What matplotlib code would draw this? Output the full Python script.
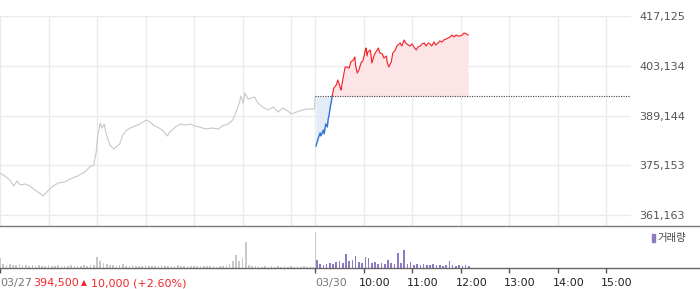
#!/usr/bin/env python3
"""
Intraday price chart (2 sessions) with volume panel below.
x axis = minutes from 03/27 09:00 (03/30 09:00 -> 390)
"""

import matplotlib
matplotlib.use('Agg')
import matplotlib.pyplot as plt
import numpy as np
from matplotlib.patches import Rectangle
from matplotlib.transforms import blended_transform_factory

W, H, DPI = 700, 289, 100

# --- data -------------------------------------------------------------
PREV_CLOSE = 394500
Y_TICKS = [361163, 375153, 389144, 403134, 417125]
Y_BOTTOM = 358070

day1_minutes = [0, 6, 12, 17, 21, 25, 31, 37, 43, 49, 53, 58, 64, 72, 80, 87, 96,
                105, 111, 116, 119, 121, 124, 126, 129, 131, 134, 136, 141, 145,
                148, 152, 157, 161, 167, 173, 181, 186, 191, 195, 202, 207, 210,
                217, 223, 229, 235, 241, 247, 254, 262, 270, 275, 282, 288, 292,
                296, 298, 301, 303, 307, 311, 315, 319, 325, 332, 338, 344, 350,
                356, 361, 367, 374, 381, 389, 390]
day1_prices = [372977, 372133, 371009, 369322, 370727, 369603, 369884, 369322,
               368197, 367353, 366509, 367634, 369040, 370165, 370446, 371290,
               372133, 373258, 374664, 375226, 378882, 383661, 387036, 385630,
               386755, 384224, 382256, 380850, 379725, 380569, 381131, 383661,
               385067, 385630, 386192, 386755, 387880, 387317, 386192, 385911,
               384786, 383380, 384505, 385911, 386755, 386473, 386755, 386192,
               385911, 385349, 385630, 385349, 386192, 386755, 387880, 390130,
               392660, 394629, 392660, 395472, 393785, 394066, 394348, 392660,
               391536, 390692, 391536, 390130, 391254, 390411, 389567, 390130,
               390692, 390973, 390973, 394500]

day2_minutes = [391, 393, 396, 397, 400, 401, 403, 405, 406, 407, 408, 410, 411,
                413, 416, 418, 421, 422, 424, 427, 429, 432, 434, 437, 439, 440,
                442, 444, 447, 449, 452, 453, 454, 455, 458, 459, 460, 463, 465,
                468, 470, 473, 475, 478, 479, 481, 484, 486, 489, 491, 495, 497,
                500, 502, 505, 507, 510, 512, 515, 517, 520, 522, 525, 527, 530,
                532, 534, 537, 539, 542, 544, 547, 549, 552, 554, 557, 559, 562,
                564, 567, 569, 572, 574, 577, 579]
day2_prices = [380569, 382256, 384224, 383380, 385067, 383943, 386755, 385911,
               388161, 389005, 390692, 393223, 394600, 396879, 397722, 399128,
               396879, 396316, 399128, 402784, 402784, 402503, 404190, 404752,
               405596, 403065, 401097, 401940, 404190, 404471, 407564, 408127,
               405877, 407002, 407564, 406158, 403909, 406158, 407002, 408127,
               406721, 406440, 405315, 405877, 404190, 402784, 404190, 406721,
               407564, 408689, 409533, 408689, 410376, 409533, 408970, 408689,
               409252, 408408, 407564, 408408, 408689, 409252, 409533, 408689,
               409533, 409252, 408689, 409814, 408970, 409533, 410095, 409814,
               410376, 410658, 410939, 411220, 411783, 411220, 411783, 411501,
               411501, 411783, 412345, 412064, 411783]

vol1_minutes = list(range(0, 390, 4))
vol1 = [10, 4, 3, 4, 3, 3, 4, 3, 3, 2, 3, 2, 3, 2, 2, 3, 2, 2, 3, 2,
        2, 2, 3, 2, 2, 2, 3, 2, 3, 3, 11, 7, 5, 4, 3, 3, 2, 3, 4, 2,
        2, 3, 2, 2, 2, 3, 2, 2, 2, 2, 3, 2, 2, 2, 2, 3, 2, 2, 2, 2,
        2, 2, 2, 2, 2, 2, 2, 1, 2, 2, 3, 4, 7, 13, 7, 10, 26, 3, 2, 2,
        2, 1, 2, 1, 2, 1, 2, 1, 2, 1, 2, 1, 2, 1, 2, 1, 2, 1]
close_auction_minute = 390
close_auction_vol = 36

vol2_minutes = list(range(392, 581, 4))
vol2 = [8, 4, 3, 4, 5, 4, 6, 7, 5, 14, 7, 8, 12, 6, 5, 11, 10, 5, 6, 4,
        5, 4, 8, 5, 4, 15, 5, 18, 4, 6, 3, 4, 3, 4, 3, 3, 4, 3, 3, 2,
        3, 7, 3, 2, 3, 2, 3, 2]

grid_minutes = [0, 60, 120, 180, 240, 300, 360, 390, 450, 510, 570, 630, 690, 750]
x_tick_minutes = [0, 390, 450, 510, 570, 630, 690, 750]
x_tick_labels = ['03/27', '03/30', '10:00', '11:00', '12:00', '13:00', '14:00', '15:00']

# --- style ------------------------------------------------------------
plt.rcParams['font.family'] = ['DejaVu Sans', 'Noto Sans CJK KR']
GRID = '#ebebeb'
GRAY_LINE = '#c8c8c8'
RED = '#f2262c'
BLUE = '#2f72dc'
RED_FILL = '#fde4e6'
BLUE_FILL = '#e3ebf7'
PURPLE = '#8e79c3'

fig = plt.figure(figsize=(W / DPI, H / DPI), dpi=DPI)

px_per_min = 630.5 / 780

# price panel
ax = fig.add_axes([0, (H - 226) / H, 630.5 / W, 210 / H])
ax.set_xlim(0, 780)
ax.set_ylim(Y_BOTTOM, Y_TICKS[-1])
for s in ax.spines.values():
    s.set_visible(False)
ax.set_xticks(grid_minutes)
ax.tick_params(axis='x', length=0, labelbottom=False)
ax.yaxis.tick_right()
ax.set_yticks(Y_TICKS)
ax.set_yticklabels([f'{v:,}' for v in Y_TICKS])
ax.tick_params(axis='y', length=0, pad=6.5, labelsize=8, labelcolor='#555555')
ax.grid(True, color=GRID, linewidth=1)
ax.set_axisbelow(True)

ax.plot(day1_minutes, day1_prices, color=GRAY_LINE, linewidth=0.8, zorder=2)

m2 = np.array(day2_minutes)
p2 = np.array(day2_prices)
ax.fill_between(m2, p2, PREV_CLOSE, where=p2 >= PREV_CLOSE, interpolate=True,
                color=RED_FILL, linewidth=0, zorder=1)
ax.fill_between(m2, p2, PREV_CLOSE, where=p2 <= PREV_CLOSE, interpolate=True,
                color=BLUE_FILL, linewidth=0, zorder=1)
k = int(np.argmax(p2 >= PREV_CLOSE))
ax.plot(m2[:k + 1], p2[:k + 1], color=BLUE, linewidth=1.0, zorder=3)
ax.plot(m2[k:], p2[k:], color=RED, linewidth=0.85, zorder=3)

# previous close reference
ax.plot([390, 780], [PREV_CLOSE, PREV_CLOSE], color='#444444', linewidth=0.8,
        linestyle=(0, (1, 1.2)), zorder=2)

# volume panel
axv = fig.add_axes([0, (H - 268) / H, 1, 42 / H])
axv.set_xlim(0, W / px_per_min)
axv.set_ylim(0, 42)
axv.spines['left'].set_visible(False)
axv.spines['right'].set_visible(False)
axv.spines['top'].set_color('#7a7a7a')
axv.spines['top'].set_linewidth(1.0)
axv.spines['bottom'].set_color('#666666')
axv.spines['bottom'].set_linewidth(1.0)
axv.set_yticks([])
axv.set_xticks(x_tick_minutes)
axv.tick_params(axis='x', direction='out', length=3.6, width=1, color='#555555',
                labelbottom=False)

axv.bar(vol1_minutes, vol1, width=2.0, color=GRAY_LINE, linewidth=0)
axv.bar([close_auction_minute], [close_auction_vol], width=1.0, color=GRAY_LINE, linewidth=0)
axv.bar(vol2_minutes, vol2, width=2.0, color=PURPLE, linewidth=0)

# x labels
trans = blended_transform_factory(axv.transData, axv.transAxes)
for m, lab in zip(x_tick_minutes, x_tick_labels):
    if m == 0:
        continue
    dx = 0 if lab == '03/30' else -5
    col = '#777777' if lab == '03/30' else '#222222'
    axv.annotate(lab, xy=(m, 0), xycoords=trans, xytext=(dx, -15),
                 textcoords='offset pixels', ha='left', va='center',
                 fontsize=8, color=col, annotation_clip=False)

ty = 1 - 283 / H
fig.text(0, ty, '03/27', fontsize=8, color='#777777', ha='left', va='center')
fig.text(33 / W, ty, '394,500', fontsize=8, color=RED, ha='left', va='center')
fig.text(80.5 / W, ty, '▲', fontsize=5.5, color=RED, ha='left', va='center')
fig.text(91 / W, ty, '10,000 (+2.60%)', fontsize=8, color=RED, ha='left', va='center')

# legend
fig.patches.append(Rectangle((652 / W, 1 - 242 / H), 3 / W, 8 / H, color=PURPLE,
                             transform=fig.transFigure, figure=fig))
fig.text(657 / W, 1 - 238.5 / H, '거래량', fontsize=7.5, color='#444444',
         ha='left', va='center', family=['Noto Sans CJK KR'])

fig.savefig('out.png', dpi=DPI, facecolor='white')
print('saved out.png')
